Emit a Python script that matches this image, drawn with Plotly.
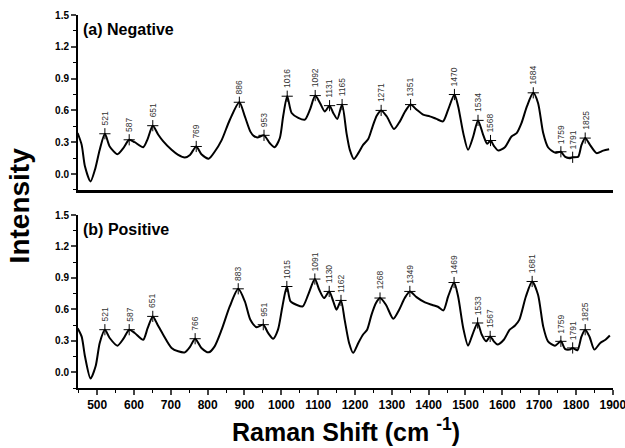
import numpy as np
import plotly.graph_objects as go

# ---- data ----
neg_x = [447, 458, 467, 482, 494, 507, 521, 534, 555, 571, 587, 602, 625, 637, 651, 666, 679, 702, 720, 738,
         752, 769, 783, 803, 819, 838, 860, 886, 901, 916, 925, 935, 953, 969, 982, 996, 1005, 1016, 1028, 1046,
         1064, 1078, 1092, 1105, 1118, 1131, 1141, 1152, 1165, 1177, 1186, 1197, 1209, 1222, 1236, 1248, 1259,
         1271, 1286, 1306, 1322, 1336, 1351, 1367, 1385, 1403, 1421, 1439, 1453, 1470, 1480, 1494, 1507, 1521,
         1534, 1548, 1559, 1568, 1577, 1589, 1607, 1625, 1639, 1652, 1667, 1684, 1697, 1711, 1724, 1743, 1759,
         1770, 1782, 1791, 1806, 1815, 1825, 1838, 1856, 1874, 1890]
neg_y = [0.387, 0.275, 0.07, -0.07, 0.04, 0.23, 0.38, 0.26, 0.187, 0.244, 0.323, 0.30, 0.253, 0.33, 0.456,
         0.37, 0.31, 0.228, 0.18, 0.155, 0.18, 0.26, 0.187, 0.145, 0.21, 0.32, 0.51, 0.677, 0.544, 0.40, 0.36,
         0.345, 0.365, 0.29, 0.253, 0.34, 0.545, 0.734, 0.576, 0.53, 0.513, 0.61, 0.74, 0.67, 0.59, 0.645, 0.576,
         0.52, 0.655, 0.386, 0.228, 0.142, 0.197, 0.275, 0.33, 0.45, 0.55, 0.60, 0.545, 0.424, 0.497, 0.59, 0.655,
         0.608, 0.56, 0.544, 0.52, 0.497, 0.608, 0.75, 0.64, 0.386, 0.228, 0.354, 0.506, 0.37, 0.285, 0.316,
         0.266, 0.221, 0.253, 0.354, 0.386, 0.48, 0.64, 0.766, 0.67, 0.386, 0.253, 0.202, 0.21, 0.164, 0.149,
         0.158, 0.164, 0.275, 0.339, 0.275, 0.197, 0.221, 0.234]

pos_x = [447, 458, 467, 482, 496, 507, 521, 534, 555, 571, 587, 602, 625, 637, 651, 664, 679, 702, 720, 738,
         752, 766, 783, 803, 819, 838, 860, 883, 901, 916, 933, 951, 964, 978, 991, 1003, 1015, 1025, 1041, 1058,
         1073, 1091, 1103, 1116, 1130, 1141, 1150, 1162, 1172, 1184, 1195, 1209, 1222, 1233, 1245, 1257, 1268,
         1284, 1304, 1320, 1335, 1349, 1367, 1390, 1410, 1425, 1440, 1453, 1469, 1480, 1494, 1507, 1519, 1533,
         1544, 1556, 1567, 1577, 1587, 1604, 1620, 1634, 1646, 1664, 1681, 1697, 1711, 1724, 1743, 1759, 1770,
         1782, 1791, 1804, 1815, 1825, 1837, 1850, 1866, 1880, 1892]
pos_y = [0.42, 0.34, 0.15, -0.06, 0.06, 0.28, 0.406, 0.327, 0.254, 0.318, 0.406, 0.375, 0.31, 0.42, 0.533,
         0.454, 0.36, 0.232, 0.2, 0.19, 0.242, 0.32, 0.232, 0.19, 0.247, 0.406, 0.628, 0.796, 0.676, 0.50, 0.43,
         0.454, 0.375, 0.32, 0.406, 0.628, 0.818, 0.676, 0.644, 0.628, 0.74, 0.889, 0.787, 0.708, 0.771, 0.676,
         0.597, 0.685, 0.50, 0.28, 0.185, 0.28, 0.36, 0.406, 0.55, 0.66, 0.708, 0.644, 0.51, 0.597, 0.708, 0.771,
         0.717, 0.666, 0.642, 0.625, 0.59, 0.723, 0.856, 0.723, 0.42, 0.254, 0.36, 0.47, 0.36, 0.295, 0.342,
         0.295, 0.264, 0.31, 0.406, 0.444, 0.50, 0.723, 0.866, 0.74, 0.437, 0.295, 0.254, 0.295, 0.223, 0.216,
         0.232, 0.21, 0.342, 0.406, 0.337, 0.216, 0.28, 0.31, 0.35]

neg_peaks = [521, 587, 651, 769, 886, 953, 1016, 1092, 1131, 1165, 1271, 1351, 1470, 1534, 1568, 1684,
             1759, 1791, 1825]
pos_peaks = [521, 587, 651, 766, 883, 951, 1015, 1091, 1130, 1162, 1268, 1349, 1469, 1533, 1567, 1681,
             1759, 1791, 1825]

panel_labels = ["(a) Negative", "(b) Positive"]
x_ticks = list(range(500, 2000, 100))
y_ticks = [0.0, 0.3, 0.6, 0.9, 1.2, 1.5]

FONT = "Liberation Sans, Arial, sans-serif"
LBL_SIZE = 8.5

fig = go.Figure()
panels = [(neg_x, neg_y, neg_peaks, "x", "y"), (pos_x, pos_y, pos_peaks, "x2", "y2")]
annotations = []
for (cx, cy, pk, xa, ya), lab in zip(panels, panel_labels):
    fig.add_trace(go.Scatter(x=cx, y=cy, mode="lines", xaxis=xa, yaxis=ya,
                             line=dict(color="black", width=2, shape="spline", smoothing=0.7),
                             showlegend=False, hoverinfo="skip"))
    py = np.interp(pk, cx, cy)
    fig.add_trace(go.Scatter(x=pk, y=py, mode="markers", xaxis=xa, yaxis=ya,
                             marker=dict(symbol="cross-thin", size=8, line=dict(color="black", width=1)),
                             showlegend=False, hoverinfo="skip"))
    for px_, py_ in zip(pk, py):
        txt = str(px_)
        length = len(txt) * 0.556 * LBL_SIZE
        annotations.append(dict(x=px_, y=py_, xref=xa, yref=ya, text=txt, showarrow=False,
                                textangle=-90, xanchor="center", yanchor="middle",
                                yshift=8 + length / 2,
                                font=dict(family=FONT, size=LBL_SIZE, color="#333333")))
    annotations.append(dict(x=0.006, y=0.975, xref=xa + " domain", yref=ya + " domain",
                            text="<b>%s</b>" % lab, showarrow=False, xanchor="left", yanchor="top",
                            font=dict(family=FONT, size=16, color="black")))

annotations.append(dict(x=-0.11, y=0.49, xref="paper", yref="paper", text="<b>Intensity</b>",
                        textangle=-90, showarrow=False, xanchor="center", yanchor="middle",
                        font=dict(family=FONT, size=28, color="black")))
annotations.append(dict(x=0.5, y=-0.112, xref="paper", yref="paper",
                        text="<b>Raman Shift (cm <sup>-1</sup>)</b>", showarrow=False,
                        xanchor="center", yanchor="middle",
                        font=dict(family=FONT, size=25, color="black")))

xrange = [448, 1900.5]
yrange = [-0.15, 1.5]
yaxis_common = dict(range=yrange, tickvals=y_ticks, ticktext=["%.1f" % v for v in y_ticks],
                    ticks="outside", ticklen=5, tickwidth=1.5, showline=True, linewidth=2,
                    linecolor="black", showgrid=False, zeroline=False, automargin=False,
                    tickfont=dict(family=FONT, size=10, color="black", weight="bold"),
                    minor=dict(ticks="outside", ticklen=3, tickwidth=1.2, dtick=0.15, tick0=0,
                               tickcolor="black"))

fig.update_layout(
    width=625, height=448,
    margin=dict(l=78, r=12, t=15, b=60, autoexpand=False),
    paper_bgcolor="white", plot_bgcolor="white",
    xaxis=dict(range=xrange, domain=[0, 1], anchor="y", showline=True, linewidth=2.5, linecolor="black",
               showticklabels=False, ticks="", showgrid=False, zeroline=False, automargin=False),
    yaxis=dict(domain=[0.531, 1.0], anchor="x", **yaxis_common),
    xaxis2=dict(range=xrange, domain=[0, 1], anchor="y2", showline=True, linewidth=2, linecolor="black",
                tickvals=x_ticks, ticks="outside", ticklen=5, tickwidth=1.5, showgrid=False, zeroline=False,
                ticklabeloverflow="allow", automargin=False,
                tickfont=dict(family=FONT, size=12, color="black", weight="bold"),
                minor=dict(ticks="outside", ticklen=3, tickwidth=1.2, dtick=50, tick0=0, tickcolor="black")),
    yaxis2=dict(domain=[0.0, 0.4638], anchor="x2", **yaxis_common),
    annotations=annotations,
)

fig.write_html("out.html")
